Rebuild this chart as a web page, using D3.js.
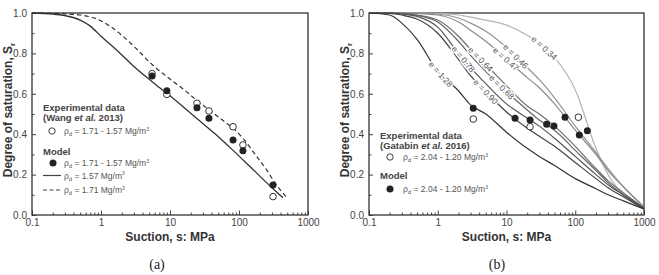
<!DOCTYPE html>
<html><head><meta charset="utf-8">
<script src="https://cdn.jsdelivr.net/npm/d3@7"></script>
<style>
html,body{margin:0;padding:0;background:#fff;}
svg{display:block;font-family:"Liberation Sans",Arial,sans-serif;}
</style></head>
<body>
<svg id="c" width="659" height="275"></svg>
<script>
// ---------- data ----------
const xTickLabels = ["0.1", "1", "10", "100", "1000"];
const yTickLabels = ["0.0", "0.2", "0.4", "0.6", "0.8", "1.0"];

// Panel (a) – model curves
const sucA157 = [0.1, 0.2, 0.3, 0.5, 0.7, 1, 1.9, 3, 5.5, 10, 25, 42, 53, 82, 144, 280, 434];
const srA157  = [1.0, 0.995, 0.987, 0.965, 0.935, 0.885, 0.80, 0.735, 0.66, 0.59, 0.475, 0.41, 0.38, 0.32, 0.24, 0.145, 0.085];
const sucA171 = [0.1, 0.3, 0.5, 0.8, 1.35, 2, 3, 5.5, 9, 16, 25, 37, 60, 82, 114, 180, 250, 323, 497];
const srA171  = [1.0, 0.996, 0.99, 0.975, 0.935, 0.89, 0.835, 0.745, 0.685, 0.62, 0.565, 0.52, 0.465, 0.43, 0.38, 0.29, 0.225, 0.165, 0.085];
// Panel (a) – points
const sucA    = [5.5, 9, 24.6, 36.7, 82, 114, 311];
const expA    = [0.70, 0.597, 0.553, 0.515, 0.437, 0.347, 0.091];
const modA    = [0.688, 0.615, 0.531, 0.479, 0.371, 0.318, 0.149];

// Panel (b) – model curves for void ratios e
const sucGrid = [0.1, 0.2, 0.3, 0.5, 1, 2, 3, 5, 10, 20, 30, 50, 100, 200, 300, 500, 1000];
const eLabels = ["1.28", "0.90", "0.78", "0.68", "0.64", "0.47", "0.46", "0.34"];
const eLabelSuc = [1.1, 4.98, 2.36, 8.5, 4.2, 9.8, 13.6, 35.5];
const eColors = ["#333333", "#444444", "#555555", "#666666", "#6e6e6e", "#8a8a8a", "#939393", "#b4b4b4"];
const srE128 = [1.0, 0.99, 0.95, 0.87, 0.71, 0.615, 0.545, 0.50, 0.41, 0.33, 0.29, 0.245, 0.18, 0.13, 0.10, 0.07, 0.03];
const srE090 = [1.0, 0.998, 0.99, 0.97, 0.90, 0.77, 0.69, 0.61, 0.51, 0.43, 0.39, 0.34, 0.26, 0.18, 0.135, 0.09, 0.03];
const srE078 = [1.0, 1.0, 0.995, 0.983, 0.93, 0.80, 0.73, 0.65, 0.55, 0.48, 0.44, 0.38, 0.29, 0.20, 0.15, 0.10, 0.035];
const srE068 = [1.0, 1.0, 0.997, 0.988, 0.955, 0.86, 0.79, 0.71, 0.61, 0.52, 0.47, 0.42, 0.32, 0.22, 0.16, 0.10, 0.035];
const srE064 = [1.0, 1.0, 0.998, 0.99, 0.965, 0.885, 0.82, 0.745, 0.64, 0.54, 0.50, 0.44, 0.34, 0.23, 0.17, 0.11, 0.035];
const srE047 = [1.0, 1.0, 1.0, 0.998, 0.99, 0.955, 0.915, 0.86, 0.77, 0.68, 0.63, 0.55, 0.42, 0.30, 0.22, 0.14, 0.04];
const srE046 = [1.0, 1.0, 1.0, 0.999, 0.995, 0.975, 0.95, 0.91, 0.83, 0.73, 0.67, 0.58, 0.44, 0.31, 0.23, 0.14, 0.04];
const srE034 = [1.0, 1.0, 1.0, 1.0, 0.998, 0.99, 0.98, 0.965, 0.94, 0.89, 0.85, 0.78, 0.62, 0.33, 0.20, 0.10, 0.03];
// Panel (b) – points
const sucBexp = [3.29, 22, 111];
const expB    = [0.475, 0.437, 0.484];
const sucBmod = [3.29, 13.3, 22, 38.4, 49, 71, 114.6, 150];
const modB    = [0.528, 0.479, 0.47, 0.449, 0.44, 0.484, 0.396, 0.417];

// ---------- drawing ----------
const svg = d3.select("#c");
const axisCol = "#444";
const plotTop = 13, plotBottom = 215;

function panel(x0, x1) {
  const x = d3.scaleLog().domain([0.1, 1000]).range([x0, x1]);
  const y = d3.scaleLinear().domain([0, 1]).range([plotBottom, plotTop]);
  const g = svg.append("g");
  const xt = x.ticks();
  const isMajor = v => Math.abs(Math.log10(v) - Math.round(Math.log10(v))) < 1e-9;
  const xa = g.append("g").attr("transform", `translate(0,${plotBottom})`)
    .call(d3.axisBottom(x).tickValues(xt).tickSize(-2.5).tickPadding(6)
      .tickFormat(v => isMajor(v) ? xTickLabels[Math.round(Math.log10(v)) + 1] : ""));
  xa.selectAll(".tick line").attr("stroke", axisCol).attr("stroke-width", 1)
    .filter(d => isMajor(d)).attr("y2", -4.5);
  xa.select(".domain").remove();
  xa.selectAll("text").attr("font-size", 10).attr("fill", "#444").attr("font-family", "Liberation Sans, Arial").attr("dy", "0.75em").attr("y", 3.5);
  const yt = d3.range(0, 11).map(i => i / 10);
  const ya = g.append("g").attr("transform", `translate(${x0},0)`)
    .call(d3.axisLeft(y).tickValues(yt).tickSize(-2.5).tickPadding(5)
      .tickFormat((v, i) => i % 2 === 0 ? yTickLabels[i / 2] : ""));
  ya.selectAll(".tick line").attr("stroke", axisCol).attr("stroke-width", 1)
    .filter((d, i) => i % 2 === 0).attr("x2", 4);
  ya.select(".domain").remove();
  ya.selectAll("text").attr("font-size", 10).attr("fill", "#444").attr("font-family", "Liberation Sans, Arial");
  g.append("rect").attr("x", x0).attr("y", plotTop).attr("width", x1 - x0).attr("height", plotBottom - plotTop)
    .attr("fill", "none").attr("stroke", "#333").attr("stroke-width", 1.3);
  g.append("text").attr("x", (x0 + x1) / 2).attr("y", 241).attr("text-anchor", "middle")
    .attr("font-size", 12).attr("font-weight", "bold").attr("fill", "#333").text("Suction, s: MPa");
  const yl = g.append("text").attr("transform", `translate(${x0 - 20},${(plotTop + plotBottom) / 2 - 4}) rotate(-90)`)
    .attr("text-anchor", "middle").attr("font-size", 12).attr("font-weight", "bold").attr("fill", "#333");
  yl.append("tspan").text("Degree of saturation, S");
  yl.append("tspan").attr("font-size", 8).attr("dy", 3).text("r");
  return {x, y, g};
}

function rhoText(g, tx, ty, val, col) {
  const t = g.append("text").attr("x", tx).attr("y", ty).attr("font-size", 8.5).attr("fill", col || "#555");
  t.append("tspan").text("ρ");
  t.append("tspan").attr("font-size", 6).attr("dy", 2).text("d");
  t.append("tspan").attr("dy", -2).text(" = " + val + " Mg/m");
  t.append("tspan").attr("font-size", 5).attr("dy", -3.5).text("3");
  return t;
}

// ----- Panel (a) -----
const A = panel(32, 308);
const lineA = d3.line().x(d => A.x(d[0])).y(d => A.y(d[1])).curve(d3.curveMonotoneX);
A.g.append("path").datum(d3.zip(sucA157, srA157)).attr("d", lineA)
  .attr("fill", "none").attr("stroke", "#333").attr("stroke-width", 1.3);
A.g.append("path").datum(d3.zip(sucA171, srA171)).attr("d", lineA)
  .attr("fill", "none").attr("stroke", "#333").attr("stroke-width", 1.2).attr("stroke-dasharray", "4.5,3");
A.g.selectAll(".ea").data(d3.zip(sucA, expA)).join("circle")
  .attr("cx", d => A.x(d[0])).attr("cy", d => A.y(d[1])).attr("r", 3.3)
  .attr("fill", "#fff").attr("stroke", "#333").attr("stroke-width", 1);
A.g.selectAll(".ma").data(d3.zip(sucA, modA)).join("circle")
  .attr("cx", d => A.x(d[0])).attr("cy", d => A.y(d[1])).attr("r", 3.5).attr("fill", "#222");
A.g.append("text").attr("x", 43).attr("y", 111).attr("font-size", 9.5).attr("font-weight", "bold").attr("fill", "#444").text("Experimental data");
const wa = A.g.append("text").attr("x", 43).attr("y", 121).attr("font-size", 9.5).attr("font-weight", "bold").attr("fill", "#444");
wa.append("tspan").text("(Wang ");
wa.append("tspan").attr("font-style", "italic").text("et al.");
wa.append("tspan").text(" 2013)");
A.g.append("circle").attr("cx", 52).attr("cy", 131).attr("r", 3.2).attr("fill", "#fff").attr("stroke", "#444");
rhoText(A.g, 64, 134, "1.71 - 1.57");
A.g.append("text").attr("x", 43).attr("y", 154.5).attr("font-size", 9.5).attr("font-weight", "bold").attr("fill", "#444").text("Model");
A.g.append("circle").attr("cx", 53).attr("cy", 163).attr("r", 3.5).attr("fill", "#222");
rhoText(A.g, 64, 166, "1.71 - 1.57");
A.g.append("line").attr("x1", 43).attr("x2", 61).attr("y1", 175.5).attr("y2", 175.5).attr("stroke", "#444").attr("stroke-width", 1.2);
rhoText(A.g, 64, 178.5, "1.57");
A.g.append("line").attr("x1", 43).attr("x2", 61).attr("y1", 190).attr("y2", 190).attr("stroke", "#444").attr("stroke-width", 1.2).attr("stroke-dasharray", "4,2.5");
rhoText(A.g, 64, 193, "1.71");
svg.append("text").attr("x", 157).attr("y", 269).attr("text-anchor", "middle")
  .attr("font-family", "Liberation Serif, serif").attr("font-size", 14).attr("fill", "#222").text("(a)");

// ----- Panel (b) -----
const B = panel(369, 644);
const lineB = d3.line().x(d => B.x(d[0])).y(d => B.y(d[1])).curve(d3.curveMonotoneX);
const curvesB = [srE128, srE090, srE078, srE068, srE064, srE047, srE046, srE034];
[7, 6, 5, 4, 3, 2, 1, 0].forEach(i => {
  B.g.append("path").datum(d3.zip(sucGrid, curvesB[i])).attr("d", lineB)
    .attr("fill", "none").attr("stroke", eColors[i]).attr("stroke-width", 1.2);
});
function interp(sArr, vArr, s) {
  const ls = Math.log10(s);
  for (let k = 0; k < sArr.length - 1; k++) {
    const a = Math.log10(sArr[k]), b = Math.log10(sArr[k + 1]);
    if (ls >= a && ls <= b) return vArr[k] + (vArr[k + 1] - vArr[k]) * (ls - a) / (b - a);
  }
  return vArr[vArr.length - 1];
}
eLabels.forEach((lab, i) => {
  const s = eLabelSuc[i];
  const px = B.x(s), py = B.y(interp(sucGrid, curvesB[i], s));
  const s1 = B.x.invert(px - 6), s2 = B.x.invert(px + 6);
  const ang = Math.atan2(B.y(interp(sucGrid, curvesB[i], s2)) - B.y(interp(sucGrid, curvesB[i], s1)), 12) * 180 / Math.PI;
  B.g.append("text").attr("transform", `translate(${px},${py}) rotate(${ang})`)
    .attr("text-anchor", "middle").attr("dy", "0.35em").attr("font-size", 8.5)
    .attr("fill", "#555").attr("stroke", "#fff").attr("stroke-width", 3).attr("paint-order", "stroke")
    .text("e = " + lab);
});
B.g.selectAll(".eb").data(d3.zip(sucBexp, expB)).join("circle")
  .attr("cx", d => B.x(d[0])).attr("cy", d => B.y(d[1])).attr("r", 3.3)
  .attr("fill", "#fff").attr("stroke", "#333").attr("stroke-width", 1);
B.g.selectAll(".mb").data(d3.zip(sucBmod, modB)).join("circle")
  .attr("cx", d => B.x(d[0])).attr("cy", d => B.y(d[1])).attr("r", 3.5).attr("fill", "#222");
B.g.append("text").attr("x", 380).attr("y", 139).attr("font-size", 9.5).attr("font-weight", "bold").attr("fill", "#444").text("Experimental data");
const wb = B.g.append("text").attr("x", 380).attr("y", 149).attr("font-size", 9.5).attr("font-weight", "bold").attr("fill", "#444");
wb.append("tspan").text("(Gatabin ");
wb.append("tspan").attr("font-style", "italic").text("et al.");
wb.append("tspan").text(" 2016)");
B.g.append("circle").attr("cx", 390).attr("cy", 157).attr("r", 3.2).attr("fill", "#fff").attr("stroke", "#444");
rhoText(B.g, 403, 160, "2.04 - 1.20");
B.g.append("text").attr("x", 380).attr("y", 178.5).attr("font-size", 9.5).attr("font-weight", "bold").attr("fill", "#444").text("Model");
B.g.append("circle").attr("cx", 390).attr("cy", 189).attr("r", 3.5).attr("fill", "#222");
rhoText(B.g, 403, 192, "2.04 - 1.20");
svg.append("text").attr("x", 497).attr("y", 269).attr("text-anchor", "middle")
  .attr("font-family", "Liberation Serif, serif").attr("font-size", 14).attr("fill", "#222").text("(b)");
</script>
</body></html>
